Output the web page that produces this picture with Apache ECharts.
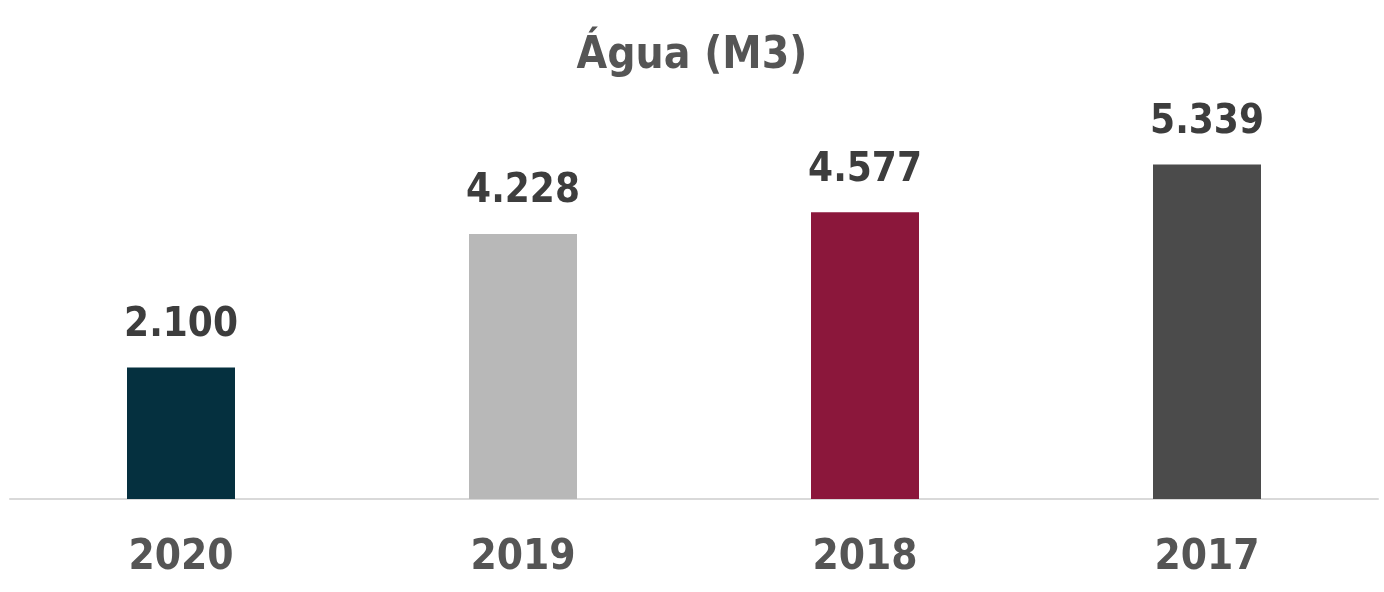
<!DOCTYPE html>
<html>
<head>
<meta charset="utf-8">
<script src="https://cdn.jsdelivr.net/npm/echarts@6/dist/echarts.min.js"></script>
<style>
  html, body { margin: 0; padding: 0; background: #fff; }
  #chart { width: 1384px; height: 592px; }
</style>
</head>
<body>
<div id="chart"></div>
<script>
const years = ['2020', '2019', '2018', '2017']
const water = [2100, 4228, 4577, 5339]
const barColors = ['#05303f', '#b8b8b8', '#8b173b', '#4b4b4b']

const font = "'Liberation Sans Narrow', 'DejaVu Sans Condensed', sans-serif"

const chart = echarts.init(document.getElementById('chart'))
chart.setOption({
  animation: false,
  title: {
    text: 'Água (M3)',
    left: 'center',
    top: 30,
    textStyle: { fontFamily: font, fontSize: 44, fontWeight: 'bold', color: '#555555' }
  },
  grid: { left: 10, right: 6, top: 123, bottom: 93 },
  xAxis: {
    type: 'category',
    data: years,
    axisLine: { lineStyle: { color: '#d9d9d9', width: 2 } },
    axisTick: { show: false },
    axisLabel: {
      margin: 38,
      fontFamily: font,
      fontSize: 42,
      fontWeight: 'bold',
      color: '#555555'
    }
  },
  yAxis: {
    type: 'value',
    min: 0,
    max: 6000,
    show: false,
    splitLine: { show: false }
  },
  series: [{
    type: 'bar',
    data: water.map((v, i) => ({ value: v, itemStyle: { color: barColors[i] } })),
    barWidth: 108,
    label: {
      show: true,
      position: 'top',
      distance: 22,
      fontFamily: font,
      fontSize: 40,
      fontWeight: 'bold',
      color: '#3d3d3d',
      formatter: p => (p.value / 1000).toFixed(3)
    }
  }]
})
</script>
</body>
</html>
